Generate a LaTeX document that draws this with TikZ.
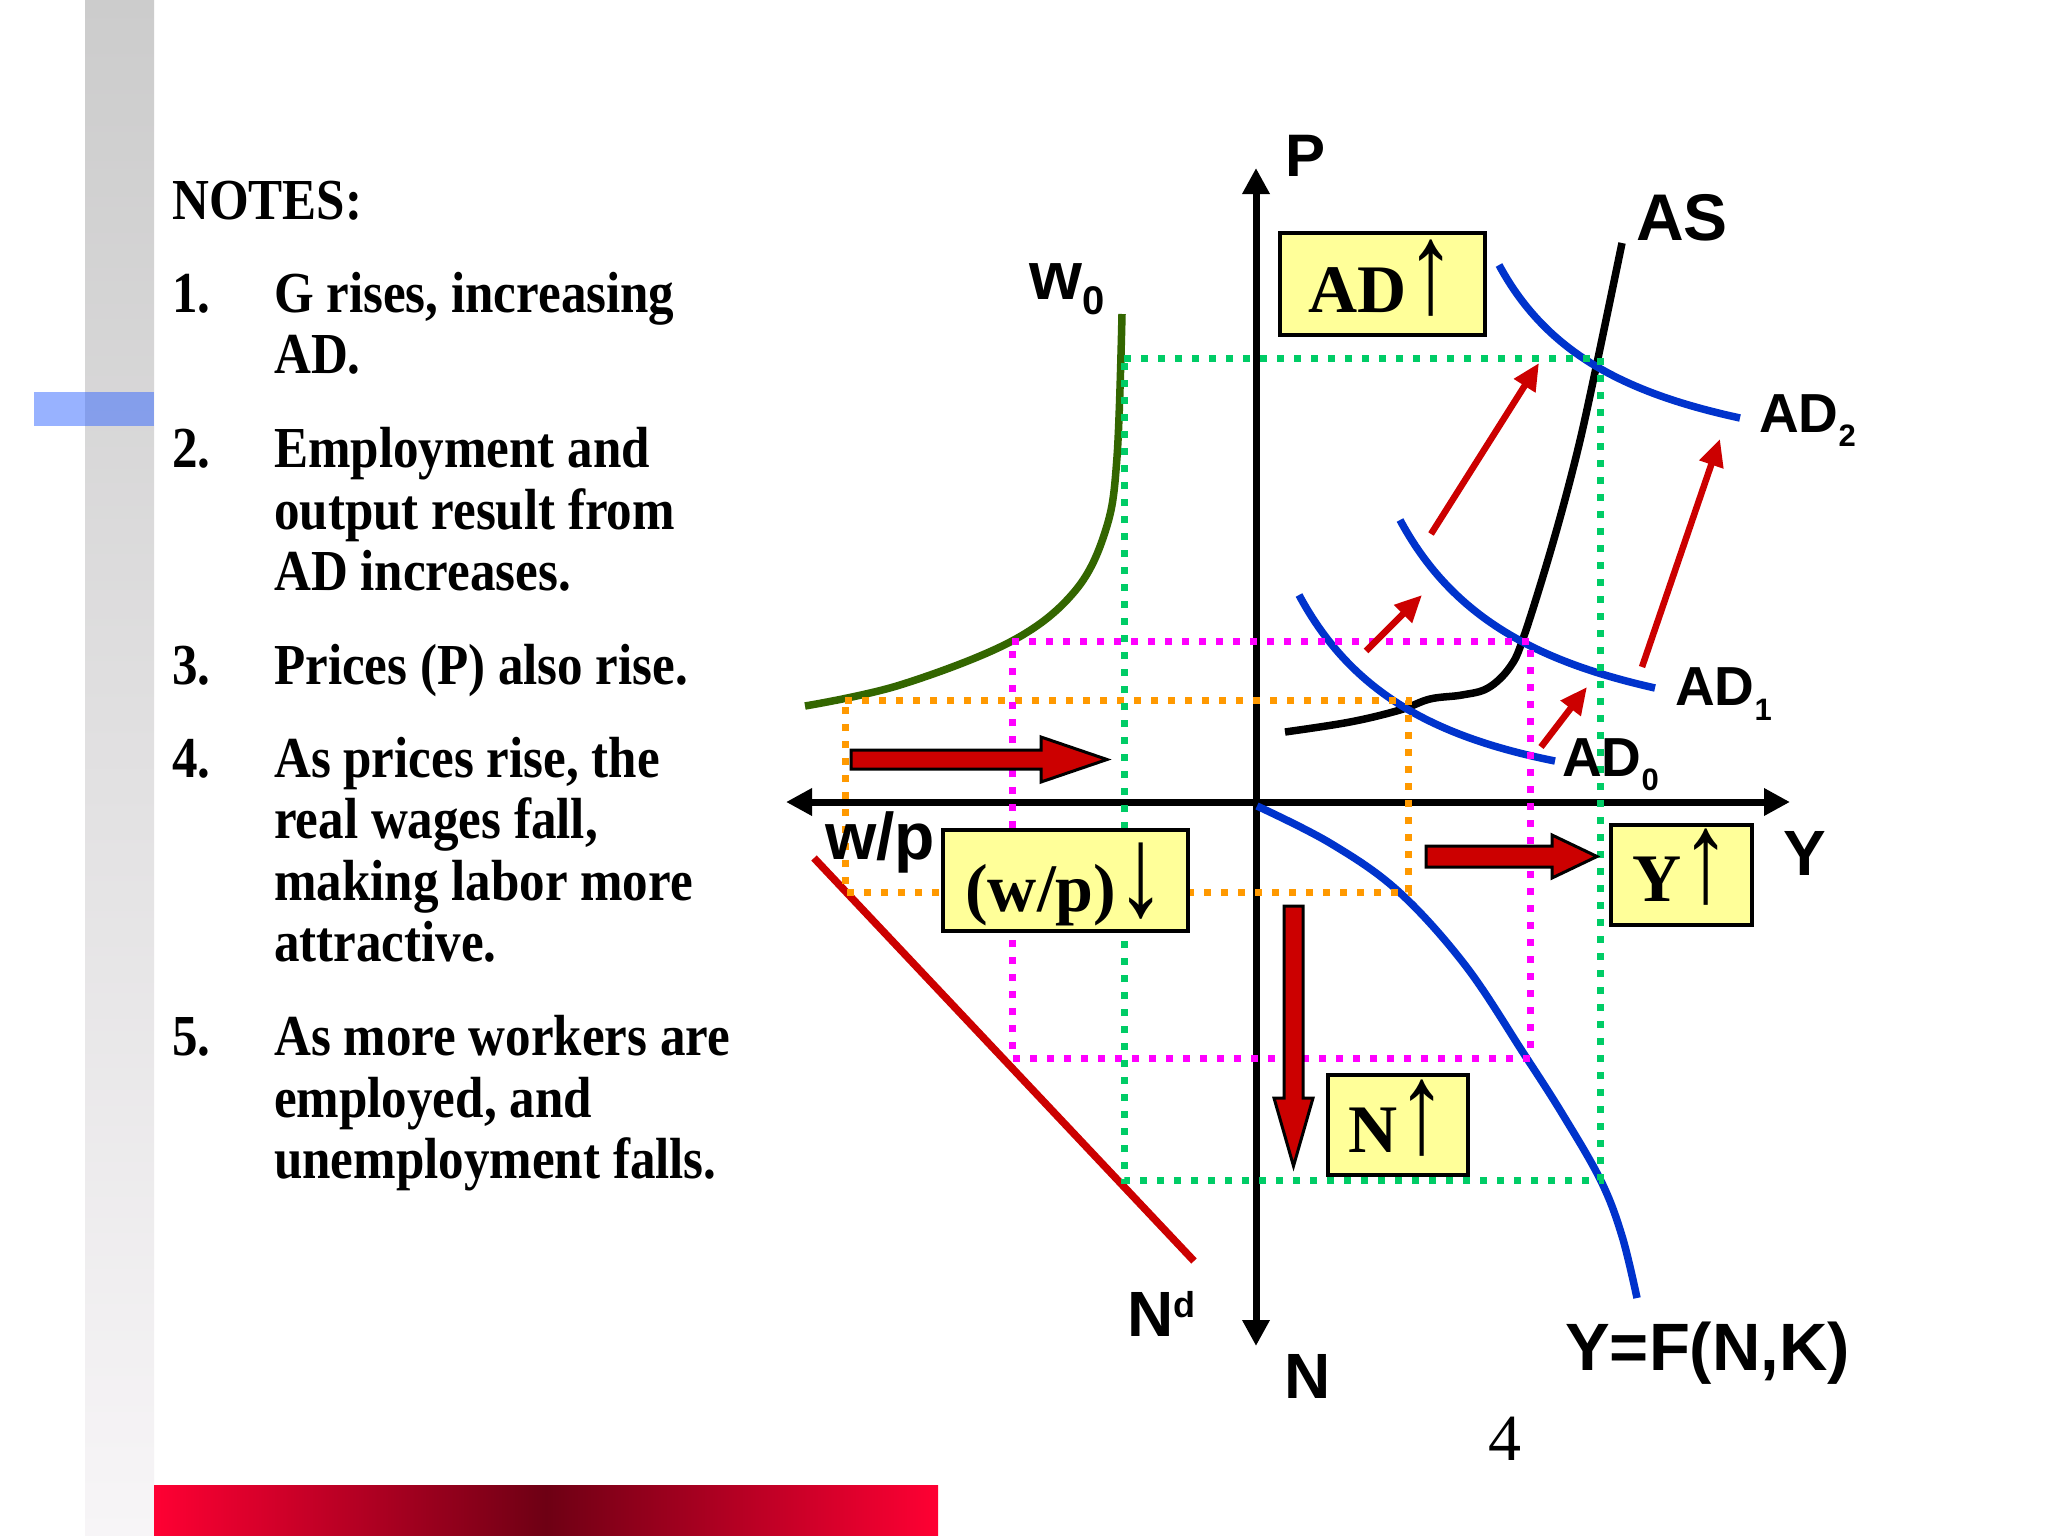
\documentclass[tikz,border=0pt]{standalone}
\usepackage{fontspec}
\usetikzlibrary{arrows.meta}
\newfontfamily\notesfont[FakeStretch=0.88]{Liberation Serif}
\newfontfamily\labfont{Liberation Sans}
\newfontfamily\boxfont{Liberation Serif}
\newcommand\myfs[1]{\fontsize{#1}{#1}\selectfont}
\newcommand\uparr{\scalebox{1.45}[1.9]{\mdseries ↑}}
\newcommand\downarr{\raisebox{-4pt}{\scalebox{1.45}[1.9]{\mdseries ↓}}}
\definecolor{boxyellow}{HTML}{FFFF99}
\definecolor{adblue}{HTML}{0033CC}
\definecolor{dred}{HTML}{CC0000}
\definecolor{wgreen}{HTML}{336600}
\definecolor{dotgreen}{HTML}{00CC66}
\definecolor{dotorange}{HTML}{FF9900}
\definecolor{dotmag}{HTML}{FF00FF}
\definecolor{barred}{HTML}{FF0033}
\definecolor{bardark}{HTML}{6E0014}
\definecolor{bandtop}{HTML}{CCCCCC}
\definecolor{bandbot}{HTML}{F7F5F7}
\definecolor{tabblue}{HTML}{3366FF}
\begin{document}
\begin{tikzpicture}[x=1pt,y=-1pt,
  notes/.style={anchor=base west, inner sep=0pt, font=\notesfont\bfseries\myfs{58}},
  lab/.style={anchor=base west, inner sep=0pt, font=\labfont\bfseries},
  ybox/.style={draw=black, line width=4pt, fill=boxyellow, inner sep=0pt, text depth=0pt, font=\boxfont\bfseries\myfs{68}},
  dotline/.style={line width=7pt, dash pattern=on 7pt off 10pt},
  curve/.style={line width=7.5pt},
  axisline/.style={line width=7pt, {Triangle[length=26pt,width=26pt]}-{Triangle[length=26pt,width=26pt]}},
  thinarrow/.style={draw=dred, line width=6.5pt, -{Triangle[length=27pt,width=24pt]}},
  blockarrow/.style={fill=dred, draw=black, line width=3pt, line join=miter}]
\useasboundingbox (0,0) rectangle (2048,1536);
\fill[white] (0,0) rectangle (2048,1536);

% left decoration
\shade[top color=bandtop, bottom color=bandbot] (85,0) rectangle (154,1536);
\fill[tabblue, fill opacity=0.5] (34,392) rectangle (154,426);
\shade[left color=barred, right color=barred, middle color=bardark] (154,1485) rectangle (938,1536);

% notes
\node[notes] (notes) at (172,219) {NOTES:};
\node[notes] (n1) at (172,312) {1.};
\node[notes] (t1a) at (274,312) {G rises, increasing};
\node[notes] (t1b) at (274,373) {AD.};
\node[notes] (n2) at (172,467) {2.};
\node[notes] (t2a) at (274,467) {Employment and};
\node[notes] (t2b) at (274,529) {output result from};
\node[notes] (t2c) at (274,590) {AD increases.};
\node[notes] (n3) at (172,684) {3.};
\node[notes] (t3a) at (274,684) {Prices (P) also rise.};
\node[notes] (n4) at (172,777) {4.};
\node[notes] (t4a) at (274,777) {As prices rise, the};
\node[notes] (t4b) at (274,838) {real wages fall,};
\node[notes] (t4c) at (274,900) {making labor more};
\node[notes] (t4d) at (274,961) {attractive.};
\node[notes] (n5) at (172,1055) {5.};
\node[notes] (t5a) at (274,1055) {As more workers are};
\node[notes] (t5b) at (274,1117) {employed, and};
\node[notes] (t5c) at (274,1178) {unemployment falls.};

% axes
\coordinate (Ptop) at (1256,168);
\coordinate (Nbot) at (1256,1346);
\coordinate (Lend) at (786,802);
\coordinate (Rend) at (1790,802);
\draw[axisline] (Nbot) -- (Ptop);
\draw[axisline] (Lend) -- (Rend);

% curves
\draw[wgreen,curve] plot[smooth,tension=0.6] coordinates {(805,706) (900,685) (1012,641) (1075,591) (1106,529) (1117,457) (1122,314)};
\draw[black,curve] plot[smooth,tension=0.6] coordinates {(1285,732) (1350,722) (1400,710) (1430,699) (1462,695) (1488,688) (1510,667) (1524,636) (1552,546) (1576,457) (1594,377) (1622,243)};
\draw[adblue,curve] (1299,595) .. controls (1350,690) and (1430,736) .. (1555,761);
\draw[adblue,curve] (1400,520) .. controls (1450,613) and (1530,660) .. (1655,688);
\draw[adblue,curve] (1499,265) .. controls (1545,350) and (1620,392) .. (1740,418);
\draw[adblue,curve] plot[smooth,tension=0.6] coordinates {(1257,806) (1330,843) (1398,891) (1465,965) (1524,1054) (1563,1115) (1601,1181) (1622,1236) (1637,1298)};
\draw[dred,curve] (814,858) -- (1194,1261);

% dotted guides
\draw[dotorange,dotline] (845,700) -- (1408,700) -- (1408,892) -- (845,892) -- cycle;
\draw[dotmag,dotline] (1012,641) -- (1530,641) -- (1530,1058) -- (1012,1058) -- cycle;
\draw[dotgreen,dotline] (1124,358) -- (1600,358) -- (1600,1180) -- (1124,1180) -- cycle;

% thin red arrows
\coordinate (a1s) at (1366,651); \coordinate (a1e) at (1422,595);
\coordinate (a2s) at (1431,534); \coordinate (a2e) at (1539,363);
\coordinate (a3s) at (1541,747); \coordinate (a3e) at (1587,687);
\coordinate (a4s) at (1642,667); \coordinate (a4e) at (1720,439);
\draw[thinarrow] (a1s) -- (a1e);
\draw[thinarrow] (a2s) -- (a2e);
\draw[thinarrow] (a3s) -- (a3e);
\draw[thinarrow] (a4s) -- (a4e);

% block arrows
\draw[blockarrow] (851,750) -- (1041,750) -- (1041,737) -- (1107,759.5) -- (1041,782) -- (1041,769) -- (851,769) -- cycle;
\draw[blockarrow] (1426,846) -- (1552,846) -- (1552,835) -- (1597,856.5) -- (1552,878) -- (1552,867) -- (1426,867) -- cycle;
\draw[blockarrow] (1284,906) -- (1303,906) -- (1303,1098) -- (1313,1098) -- (1293.5,1166) -- (1274,1098) -- (1284,1098) -- cycle;

% boxes
\node[ybox, text height=56pt, minimum width=205pt, minimum height=102pt] (bAD) at (1382.5,284) {AD\uparr};
\node[ybox, text height=62pt, minimum width=245pt, minimum height=101pt] (bWP) at (1065.5,880.5) {(w/p)\downarr};
\node[ybox, text height=52pt, minimum width=141pt, minimum height=100pt] (bY) at (1681.5,875) {Y\uparr};
\node[ybox, text height=54pt, minimum width=140pt, minimum height=100pt] (bN) at (1398,1125) {N\uparr};

% labels
\node[lab] (lP) at (1285,176) {\myfs{60}P};
\node[lab] (lAS) at (1636,240) {\myfs{66}AS};
\node[lab] (lw0) at (1029,299) {\myfs{68}w\raisebox{-15pt}{\myfs{40}0}};
\node[lab] (lAD2) at (1759,432) {\myfs{55}AD\raisebox{-14pt}{\myfs{31}2}};
\node[lab] (lAD1) at (1675,705) {\myfs{55}AD\raisebox{-15pt}{\myfs{31}1}};
\node[lab] (lAD0) at (1562,776) {\myfs{55}AD\raisebox{-14pt}{\myfs{31}0}};
\node[lab] (lY) at (1783,875) {\myfs{64}Y};
\node[lab] (lwp) at (825,859) {\myfs{66}w/p};
\node[lab] (lNd) at (1127,1336) {\myfs{64}N\raisebox{19pt}{\myfs{36}d}};
\node[lab] (lN) at (1284,1398) {\myfs{64}N};
\node[lab] (lYF) at (1565,1370) {\myfs{67}Y=F(N,K)};
\node[anchor=base west, inner sep=0pt, font=\boxfont\myfs{66}] (pg) at (1488,1460) {4};
\end{tikzpicture}
\end{document}
